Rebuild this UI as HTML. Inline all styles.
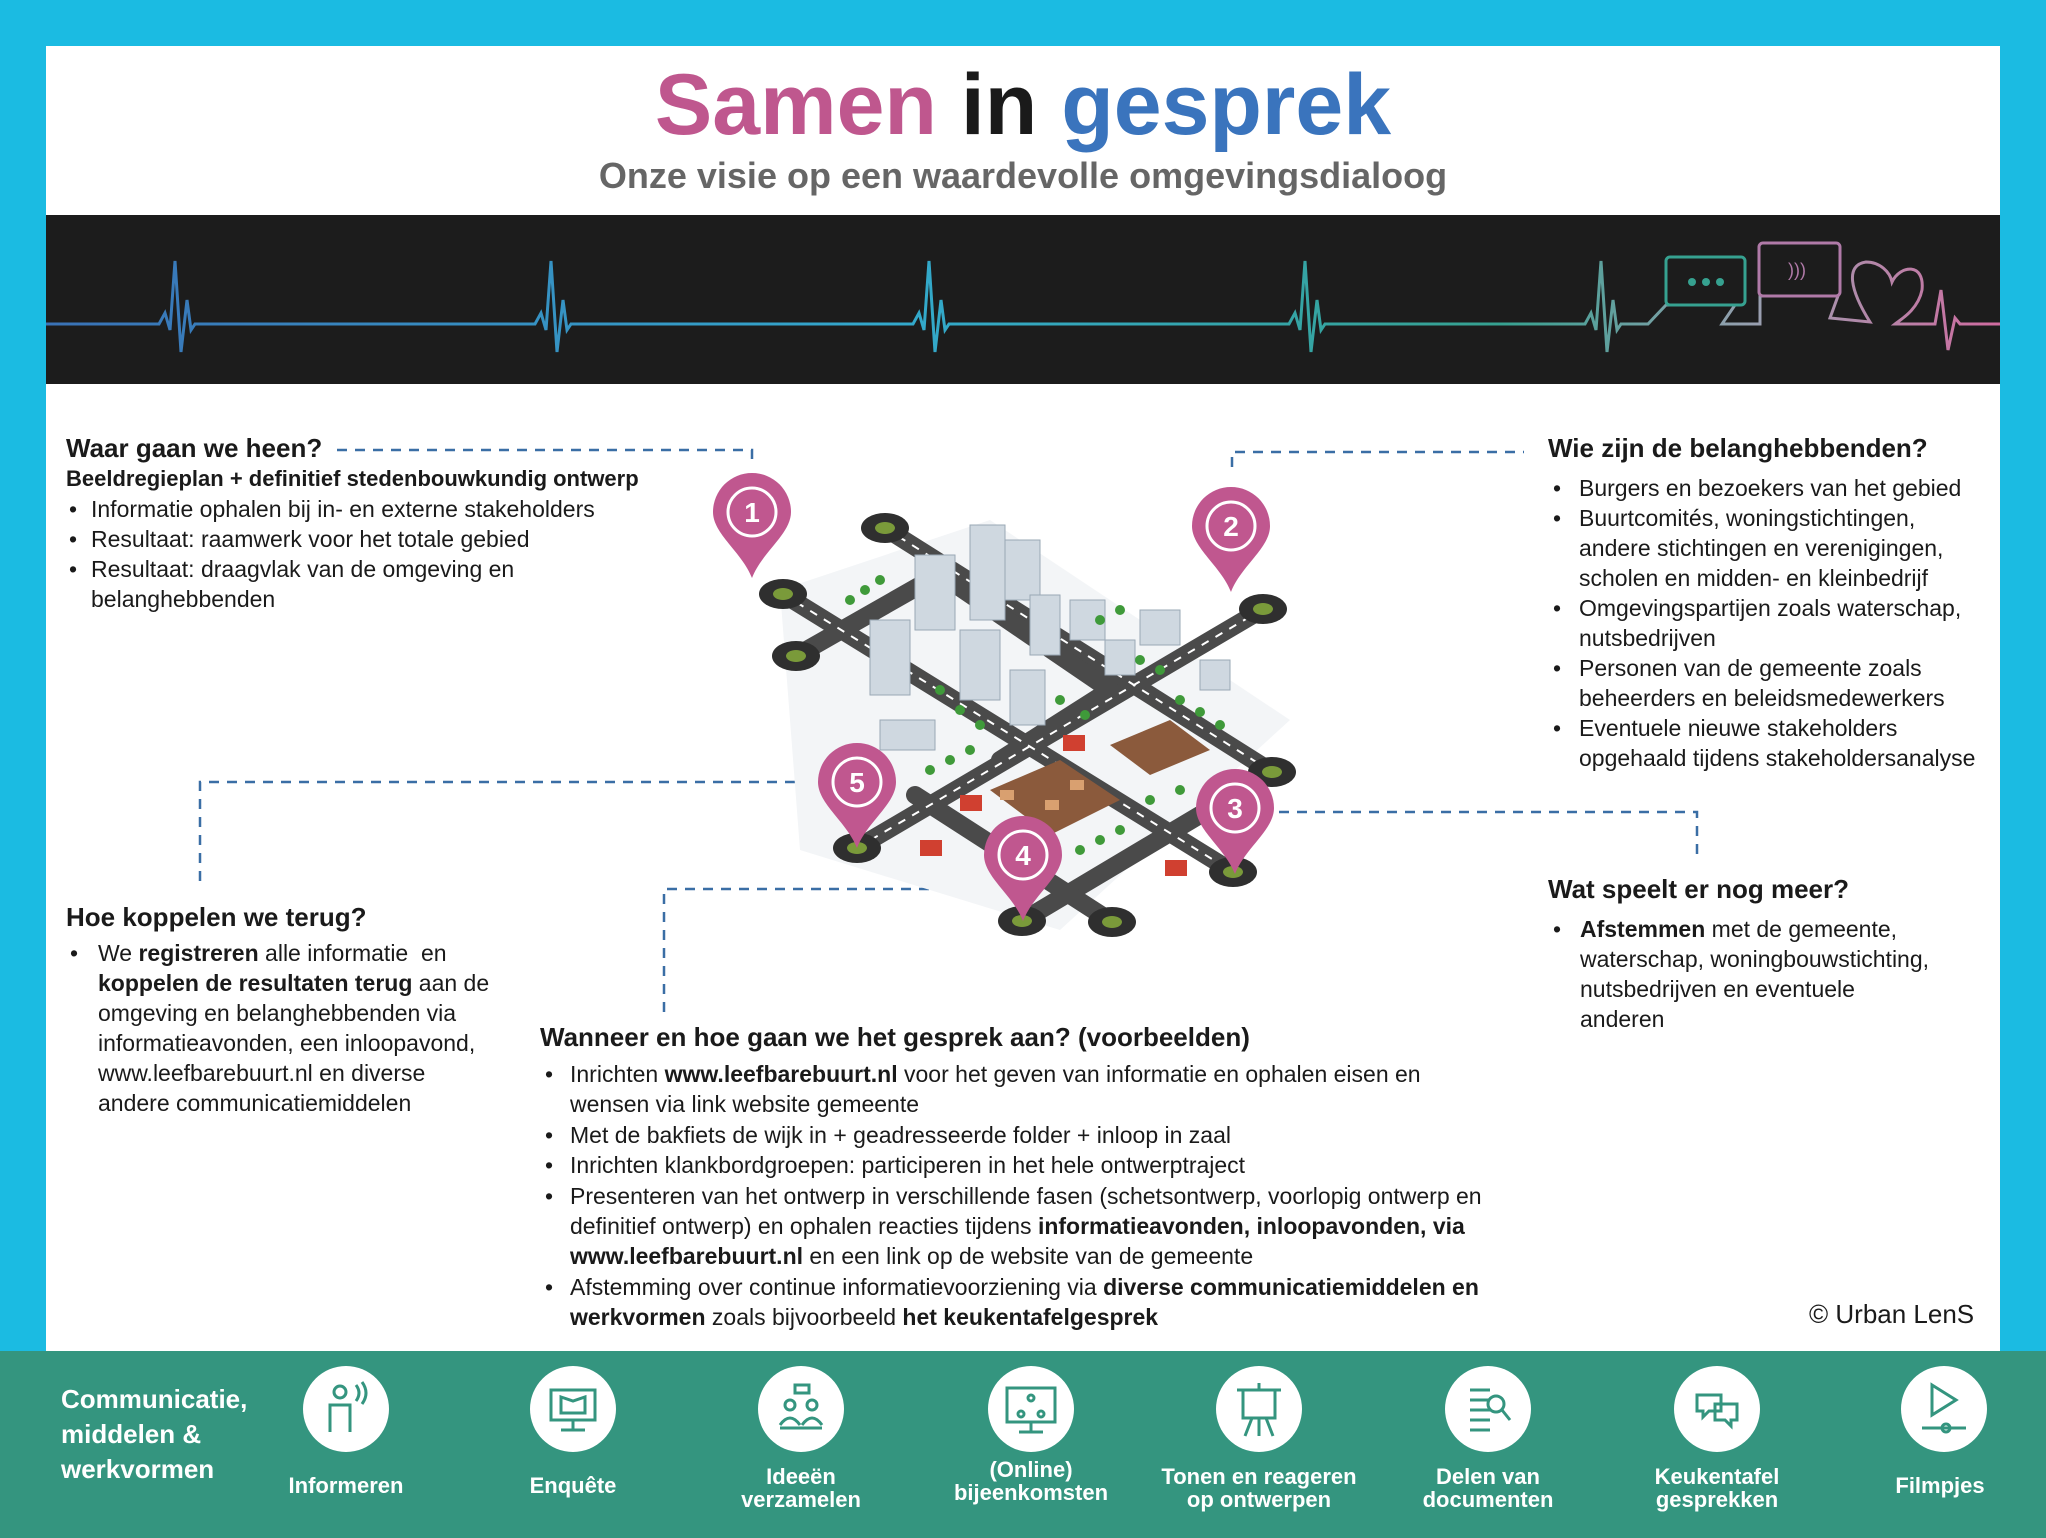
<!DOCTYPE html>
<html><head><meta charset="utf-8"><style>
body{margin:0;width:2046px;height:1538px;overflow:hidden;background:#1bbbe2;font-family:"Liberation Sans",sans-serif;}
#page{position:relative;width:2046px;height:1538px;}
.t{position:absolute;white-space:nowrap;color:#1a1a1a;font-size:23px;line-height:30px;}
.h{font-weight:bold;font-size:26px;}
.bt{position:absolute;white-space:nowrap;color:#fff;font-weight:bold;font-size:22px;line-height:23px;text-align:center;width:240px;}
</style></head><body><div id="page">
<svg width="2046" height="1538" style="position:absolute;left:0;top:0">
<defs>
<linearGradient id="hb" x1="0" x2="2000" gradientUnits="userSpaceOnUse">
<stop offset="0" stop-color="#3a6fb5"/><stop offset="0.45" stop-color="#33a9cc"/><stop offset="0.75" stop-color="#36a190"/><stop offset="0.88" stop-color="#9a9fb0"/><stop offset="1" stop-color="#d06ba0"/></linearGradient>
</defs>
<rect x="46" y="46" width="1954" height="1305" fill="#fff"/>
<rect x="46" y="215" width="1954" height="169" fill="#1c1c1c"/>
<rect x="0" y="1351" width="2046" height="187" fill="#34957f"/>
<g fill="none" stroke="url(#hb)" stroke-width="3">
<path d="M46,324 L159,324 L165,313 L170,330 L175,261 L181,352 L187,300 L191,330 L195,324 L535,324 L541,313 L546,330 L551,261 L557,352 L563,300 L567,330 L571,324 L913,324 L919,313 L924,330 L929,261 L935,352 L941,300 L945,330 L949,324 L1289,324 L1295,313 L1300,330 L1305,261 L1311,352 L1317,300 L1321,330 L1325,324 L1585,324 L1591,313 L1596,330 L1601,261 L1607,352 L1613,300 L1617,330 L1621,324 L1648,324 L1666,305 L1735,305 L1722,324 L1760,324 L1760,296 L1838,296 L1830,318 L1870,322 C1850,290 1845,265 1866,262 C1880,262 1890,272 1892,282 C1900,265 1925,262 1922,290 C1918,310 1900,320 1895,324 L1935,324 L1941,290 L1948,350 L1955,318 L1960,324 L2000,324"/>
<rect x="1666" y="257" width="79" height="48" rx="4" stroke="#36a190"/>
<rect x="1759" y="243" width="81" height="53" rx="4" stroke="#b07aa8"/>
</g>
<g fill="#36a190"><circle cx="1692" cy="282" r="4"/><circle cx="1706" cy="282" r="4"/><circle cx="1720" cy="282" r="4"/></g>
<text x="1788" y="276" fill="#b07aa8" font-size="18" font-family="Liberation Sans">)))</text>
<g fill="none" stroke="#3a6ea5" stroke-width="2.5" stroke-dasharray="10,8">
<path d="M337,450 L752,450 L752,467"/>
<path d="M1232,467 L1232,452 L1524,452"/>
<path d="M200,881 L200,782 L805,782"/>
<path d="M1279,812 L1697,812 L1697,861"/>
<path d="M983,889 L664,889 L664,1015"/>
</g>
<g>
<polygon points="780,590 990,520 1290,720 1060,930 800,850" fill="#f3f5f7"/>
<g stroke="#4a4a4a" stroke-width="18" stroke-linecap="round" fill="none">
<path d="M885,528 L1272,772"/><path d="M783,594 L1233,872"/><path d="M796,656 L940,574"/>
<path d="M857,848 L1263,609"/><path d="M1022,921 L1272,772"/><path d="M1112,922 L915,795"/>
<path d="M940,574 L1110,690 L1000,760"/>
</g>
<g stroke="#fff" stroke-width="2" stroke-dasharray="8,8" fill="none">
<path d="M885,528 L1272,772"/><path d="M783,594 L1233,872"/><path d="M857,848 L1263,609"/>
</g>
<g fill="#2f2f2f">
<ellipse cx="885" cy="528" rx="24" ry="15"/><ellipse cx="783" cy="594" rx="24" ry="15"/><ellipse cx="796" cy="656" rx="24" ry="15"/><ellipse cx="1263" cy="609" rx="24" ry="15"/><ellipse cx="1272" cy="772" rx="24" ry="15"/><ellipse cx="1233" cy="872" rx="24" ry="15"/><ellipse cx="1112" cy="922" rx="24" ry="15"/><ellipse cx="1022" cy="921" rx="24" ry="15"/><ellipse cx="857" cy="848" rx="24" ry="15"/>
</g>
<g fill="#7a9a3a">
<ellipse cx="885" cy="528" rx="10" ry="6"/><ellipse cx="783" cy="594" rx="10" ry="6"/><ellipse cx="796" cy="656" rx="10" ry="6"/><ellipse cx="1263" cy="609" rx="10" ry="6"/><ellipse cx="1272" cy="772" rx="10" ry="6"/><ellipse cx="1233" cy="872" rx="10" ry="6"/><ellipse cx="1112" cy="922" rx="10" ry="6"/><ellipse cx="1022" cy="921" rx="10" ry="6"/><ellipse cx="857" cy="848" rx="10" ry="6"/>
</g>
<g fill="#cfd8e0" stroke="#9aa8b5" stroke-width="1">
<rect x="915" y="555" width="40" height="75"/><rect x="970" y="525" width="35" height="95"/><rect x="1005" y="540" width="35" height="60"/>
<rect x="870" y="620" width="40" height="75"/><rect x="960" y="630" width="40" height="70"/><rect x="1010" y="670" width="35" height="55"/>
<rect x="1030" y="595" width="30" height="60"/><rect x="1070" y="600" width="35" height="40"/><rect x="1140" y="610" width="40" height="35"/><rect x="1105" y="640" width="30" height="35"/>
<rect x="880" y="720" width="55" height="30"/><rect x="1200" y="660" width="30" height="30"/>
</g>
<g fill="#8b5a3c"><polygon points="990,790 1060,760 1120,800 1050,835"/><polygon points="1110,745 1170,720 1210,750 1150,775"/></g>
<g fill="#d9a070"><rect x="1000" y="790" width="14" height="10"/><rect x="1045" y="800" width="14" height="10"/><rect x="1070" y="780" width="14" height="10"/></g>
<g fill="#d04030"><rect x="1063" y="735" width="22" height="16"/><rect x="1165" y="860" width="22" height="16"/><rect x="960" y="795" width="22" height="16"/><rect x="920" y="840" width="22" height="16"/></g>
<g fill="#3f9a3a">
<circle cx="850" cy="600" r="5"/><circle cx="865" cy="590" r="5"/><circle cx="880" cy="580" r="5"/><circle cx="1100" cy="620" r="5"/><circle cx="1120" cy="610" r="5"/><circle cx="1140" cy="660" r="5"/><circle cx="1160" cy="670" r="5"/><circle cx="1180" cy="700" r="5"/><circle cx="1200" cy="712" r="5"/><circle cx="1220" cy="725" r="5"/><circle cx="940" cy="690" r="5"/><circle cx="960" cy="710" r="5"/><circle cx="980" cy="725" r="5"/><circle cx="930" cy="770" r="5"/><circle cx="950" cy="760" r="5"/><circle cx="970" cy="750" r="5"/><circle cx="1080" cy="850" r="5"/><circle cx="1100" cy="840" r="5"/><circle cx="1120" cy="830" r="5"/><circle cx="1060" cy="700" r="5"/><circle cx="1085" cy="715" r="5"/><circle cx="1150" cy="800" r="5"/><circle cx="1180" cy="790" r="5"/>
</g>
</g>
<g fill="#c0578f">
<g transform="translate(752,512)"><path d="M-39,0 A39,39 0 1,1 39,0 C39,22 10,40 0,66 C-10,40 -39,22 -39,0Z"/><circle r="24" fill="none" stroke="#fff" stroke-width="3"/><text y="10" text-anchor="middle" fill="#fff" font-size="28" font-weight="bold" font-family="Liberation Sans">1</text></g>
<g transform="translate(1231,526)"><path d="M-39,0 A39,39 0 1,1 39,0 C39,22 10,40 0,66 C-10,40 -39,22 -39,0Z"/><circle r="24" fill="none" stroke="#fff" stroke-width="3"/><text y="10" text-anchor="middle" fill="#fff" font-size="28" font-weight="bold" font-family="Liberation Sans">2</text></g>
<g transform="translate(1235,808)"><path d="M-39,0 A39,39 0 1,1 39,0 C39,22 10,40 0,66 C-10,40 -39,22 -39,0Z"/><circle r="24" fill="none" stroke="#fff" stroke-width="3"/><text y="10" text-anchor="middle" fill="#fff" font-size="28" font-weight="bold" font-family="Liberation Sans">3</text></g>
<g transform="translate(1023,855)"><path d="M-39,0 A39,39 0 1,1 39,0 C39,22 10,40 0,66 C-10,40 -39,22 -39,0Z"/><circle r="24" fill="none" stroke="#fff" stroke-width="3"/><text y="10" text-anchor="middle" fill="#fff" font-size="28" font-weight="bold" font-family="Liberation Sans">4</text></g>
<g transform="translate(857,782)"><path d="M-39,0 A39,39 0 1,1 39,0 C39,22 10,40 0,66 C-10,40 -39,22 -39,0Z"/><circle r="24" fill="none" stroke="#fff" stroke-width="3"/><text y="10" text-anchor="middle" fill="#fff" font-size="28" font-weight="bold" font-family="Liberation Sans">5</text></g>
</g>
<g fill="#fff">
<circle cx="346" cy="1409" r="43"/><circle cx="573" cy="1409" r="43"/><circle cx="801" cy="1409" r="43"/><circle cx="1031" cy="1409" r="43"/><circle cx="1259" cy="1409" r="43"/><circle cx="1488" cy="1409" r="43"/><circle cx="1717" cy="1409" r="43"/><circle cx="1944" cy="1409" r="43"/>
</g>
<g fill="none" stroke="#34957f" stroke-width="3">
<circle cx="340" cy="1392" r="6"/><path d="M330,1432 L330,1405 L350,1405 L350,1432 M356,1385 q6,8 0,16 M362,1382 q8,11 0,22"/>
<rect x="551" y="1390" width="44" height="30"/><path d="M573,1420 L573,1430 M561,1430 L585,1430 M561,1397 L573,1401 L585,1397 L585,1413 L561,1413Z"/>
<circle cx="790" cy="1405" r="5"/><circle cx="812" cy="1405" r="5"/><path d="M780,1425 q10,-14 20,0 M802,1425 q10,-14 20,0 M780,1428 L822,1428 M795,1385 h14 v8 h-14z"/>
<rect x="1007" y="1388" width="48" height="34"/><path d="M1031,1422 L1031,1432 M1019,1432 L1043,1432"/><circle cx="1031" cy="1398" r="3"/><circle cx="1021" cy="1414" r="3"/><circle cx="1041" cy="1414" r="3"/>
<rect x="1243" y="1390" width="32" height="28"/><path d="M1259,1383 L1259,1390 M1237,1390 L1281,1390 M1252,1418 L1245,1436 M1266,1418 L1273,1436 M1259,1418 L1259,1436"/>
<path d="M1470,1390 h20 M1470,1400 h20 M1470,1410 h20 M1470,1420 h20 M1470,1430 h20"/><circle cx="1496" cy="1404" r="8"/><path d="M1502,1410 L1510,1420"/>
<path d="M1697,1395 h24 v16 h-12 l-6,6 v-6 h-6z M1715,1404 h22 v16 h-6 v6 l-6,-6 h-10z"/>
<path d="M1932,1385 L1956,1400 L1932,1415Z M1922,1428 L1966,1428"/><circle cx="1946" cy="1428" r="4"/>
</g>
</svg>

<div class="t" style="left:0;width:2046px;top:50px;text-align:center;font-size:86px;line-height:110px;font-weight:bold;"><span style="color:#bf578e">Samen</span> <span style="color:#1a1a1a">in</span> <span style="color:#3a74bd">gesprek</span></div>
<div class="t" style="left:0;width:2046px;top:154px;text-align:center;font-size:36px;line-height:44px;font-weight:bold;color:#666">Onze visie op een waardevolle omgevingsdialoog</div>

<div class="t h" style="left:66px;top:433px">Waar gaan we heen?</div>
<div class="t" style="left:66px;top:464px;font-weight:bold;font-size:22px">Beeldregieplan + definitief stedenbouwkundig ontwerp</div>
<div class="t" style="left:69px;top:494px">•</div><div class="t" style="left:91px;top:494px">Informatie ophalen bij in- en externe stakeholders</div>
<div class="t" style="left:69px;top:524px">•</div><div class="t" style="left:91px;top:524px">Resultaat: raamwerk voor het totale gebied</div>
<div class="t" style="left:69px;top:554px">•</div><div class="t" style="left:91px;top:554px">Resultaat: draagvlak van de omgeving en<br>belanghebbenden</div>

<div class="t h" style="left:1548px;top:433px">Wie zijn de belanghebbenden?</div>
<div class="t" style="left:1553px;top:473px;line-height:30px">•<br>•<br><br><br>•<br><br>•<br><br>•</div>
<div class="t" style="left:1579px;top:473px">Burgers en bezoekers van het gebied<br>Buurtcomités, woningstichtingen,<br>andere stichtingen en verenigingen,<br>scholen en midden- en kleinbedrijf<br>Omgevingspartijen zoals waterschap,<br>nutsbedrijven<br>Personen van de gemeente zoals<br>beheerders en beleidsmedewerkers<br>Eventuele nieuwe stakeholders<br>opgehaald tijdens stakeholdersanalyse</div>

<div class="t h" style="left:66px;top:902px">Hoe koppelen we terug?</div>
<div class="t" style="left:70px;top:938px">•</div>
<div class="t" style="left:98px;top:938px">We <b>registreren</b> alle informatie &nbsp;en<br><b>koppelen de resultaten terug</b> aan de<br>omgeving en belanghebbenden via<br>informatieavonden, een inloopavond,<br>www.leefbarebuurt.nl en diverse<br>andere communicatiemiddelen</div>

<div class="t h" style="left:1548px;top:874px">Wat speelt er nog meer?</div>
<div class="t" style="left:1553px;top:914px">•</div>
<div class="t" style="left:1580px;top:914px"><b>Afstemmen</b> met de gemeente,<br>waterschap, woningbouwstichting,<br>nutsbedrijven en eventuele<br>anderen</div>

<div class="t h" style="left:540px;top:1022px">Wanneer en hoe gaan we het gesprek aan? (voorbeelden)</div>
<div class="t" style="left:545px;top:1059px;line-height:30.4px">•<br><br>•<br>•<br>•<br><br><br>•</div>
<div class="t" style="left:570px;top:1059px;line-height:30.4px">Inrichten <b>www.leefbarebuurt.nl</b> voor het geven van informatie en ophalen eisen en<br>wensen via link website gemeente<br>Met de bakfiets de wijk in + geadresseerde folder + inloop in zaal<br>Inrichten klankbordgroepen: participeren in het hele ontwerptraject<br>Presenteren van het ontwerp in verschillende fasen (schetsontwerp, voorlopig ontwerp en<br>definitief ontwerp) en ophalen reacties tijdens <b>informatieavonden, inloopavonden, via</b><br><b>www.leefbarebuurt.nl</b> en een link op de website van de gemeente<br>Afstemming over continue informatievoorziening via <b>diverse communicatiemiddelen en</b><br><b>werkvormen</b> zoals bijvoorbeeld <b>het keukentafelgesprek</b></div>
<div class="t" style="left:1809px;top:1299px;font-size:26px">© Urban LenS</div>

<div class="t" style="left:61px;top:1382px;color:#fff;font-weight:bold;font-size:26px;line-height:35px">Communicatie,<br>middelen &amp;<br>werkvormen</div>
<div class="bt" style="left:226px;top:1474px">Informeren</div>
<div class="bt" style="left:453px;top:1474px">Enquête</div>
<div class="bt" style="left:681px;top:1465px">Ideeën<br>verzamelen</div>
<div class="bt" style="left:911px;top:1458px">(Online)<br>bijeenkomsten</div>
<div class="bt" style="left:1139px;top:1465px">Tonen en reageren<br>op ontwerpen</div>
<div class="bt" style="left:1368px;top:1465px">Delen van<br>documenten</div>
<div class="bt" style="left:1597px;top:1465px">Keukentafel<br>gesprekken</div>
<div class="bt" style="left:1820px;top:1474px">Filmpjes</div>
</div></body></html>
